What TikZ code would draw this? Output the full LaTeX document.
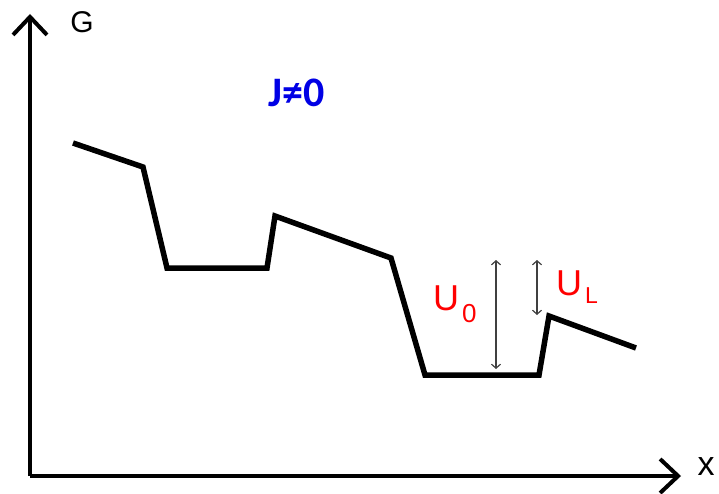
\documentclass[tikz,border=0pt]{standalone}
\usepackage{fontspec}
\setmainfont{Liberation Sans}
\newfontfamily\carl{Carlito}
\usetikzlibrary{arrows.meta}
\tikzset{
  axis/.style={line width=4pt, -{Straight Barb[length=18pt,width=34pt,line width=4pt]}},
  curve/.style={line width=5.5pt, line join=miter},
  gap/.style={gray!50!black, line width=1.2pt, {Straight Barb[length=4pt,width=9pt]}-{Straight Barb[length=4pt,width=9pt]}},
  redlab/.style={text=red, inner sep=0pt, anchor=base west},
}
\begin{document}
\begin{tikzpicture}[x=1pt,y=-1pt]
\useasboundingbox (0,0) rectangle (719,494);
% axes
\coordinate (o) at (30,476);
\coordinate (ytop) at (30,14);
\coordinate (xend) at (681,476);
\draw[axis] (o) -- (ytop);
\draw[axis] (o) -- (xend);
\node[inner sep=0pt, font=\fontsize{30}{30}\selectfont] (G) at (82,22) {G};
\node[inner sep=0pt, font=\fontsize{34}{34}\selectfont] (X) at (706,467) {x};
% title
\node[inner sep=0pt, text=blue!90!black, font=\carl\bfseries\fontsize{42}{42}\selectfont] (J) at (297,93) {J≠0};
% curve
\coordinate (p1) at (73,143);
\coordinate (p2) at (143,167);
\coordinate (p3) at (167,268);
\coordinate (p4) at (267,268);
\coordinate (p5) at (275,216);
\coordinate (p6) at (391,258);
\coordinate (p7) at (425,375);
\coordinate (p8) at (539,375);
\coordinate (p9) at (549,316);
\coordinate (p10) at (636,348);
\draw[curve] (p1) -- (p2) -- (p3) -- (p4) -- (p5) -- (p6) -- (p7) -- (p8) -- (p9) -- (p10);
% gaps
\coordinate (a0t) at (496,260);
\coordinate (a0b) at (496,369);
\coordinate (alt) at (537,260);
\coordinate (alb) at (537,315);
\draw[gap] (a0t) -- (a0b);
\draw[gap] (alt) -- (alb);
\node[redlab, font=\fontsize{36}{36}\selectfont] (U0) at (433,310) {U\raisebox{-12pt}{\fontsize{26}{26}\selectfont\kern3pt 0}};
\node[redlab, font=\fontsize{36}{36}\selectfont] (UL) at (556,295) {U\raisebox{-8pt}{\fontsize{23}{23}\selectfont\kern3pt L}};
\end{tikzpicture}
\end{document}
